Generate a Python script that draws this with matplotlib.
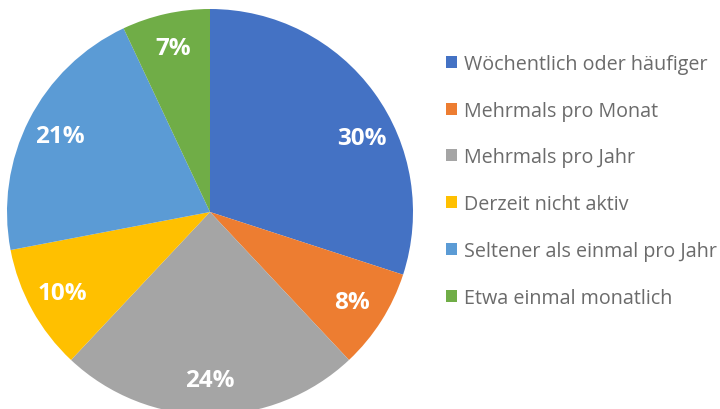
import numpy as np
import matplotlib
matplotlib.use("Agg")
from matplotlib import pyplot as plt
from matplotlib.patches import Patch

labels = ["Wöchentlich oder häufiger", "Mehrmals pro Monat", "Mehrmals pro Jahr",
          "Derzeit nicht aktiv", "Seltener als einmal pro Jahr", "Etwa einmal monatlich"]
values = [30, 8, 24, 10, 21, 7]
colors = ["#4472C4", "#ED7D31", "#A5A5A5", "#FFC000", "#5B9BD5", "#70AD47"]

plt.rcParams['font.family'] = ['Open Sans', 'DejaVu Sans']

fig = plt.figure(figsize=(7.2, 4.1), dpi=100)
ax = fig.add_axes([7 / 720, -6 / 410, 406 / 720, 406 / 410])
wedges, texts, autotexts = ax.pie(values, colors=colors, startangle=90, counterclock=False,
                                  autopct=lambda p: "%d%%" % round(p), pctdistance=0.83,
                                  textprops=dict(color="white", fontsize=17.5, fontweight="bold"))
# excel nudges the big slice label a bit lower
w = wedges[0]
ang = np.deg2rad((w.theta1 + w.theta2) / 2 - 10)
autotexts[0].set_position((0.83 * np.cos(ang), 0.83 * np.sin(ang)))

ax.set_xlim(-1, 1)
ax.set_ylim(-1, 1)
ax.set_aspect("equal")

handles = [Patch(facecolor=c) for c in colors]
fig.legend(handles, labels, loc="upper left", bbox_to_anchor=(428 / 720, 1 - 37 / 410),
           frameon=False, fontsize=14.2, labelcolor="#6b6b6b", handlelength=0.55,
           handleheight=0.55, handletextpad=0.35, labelspacing=1.36)

fig.savefig("out.png", dpi=100)
